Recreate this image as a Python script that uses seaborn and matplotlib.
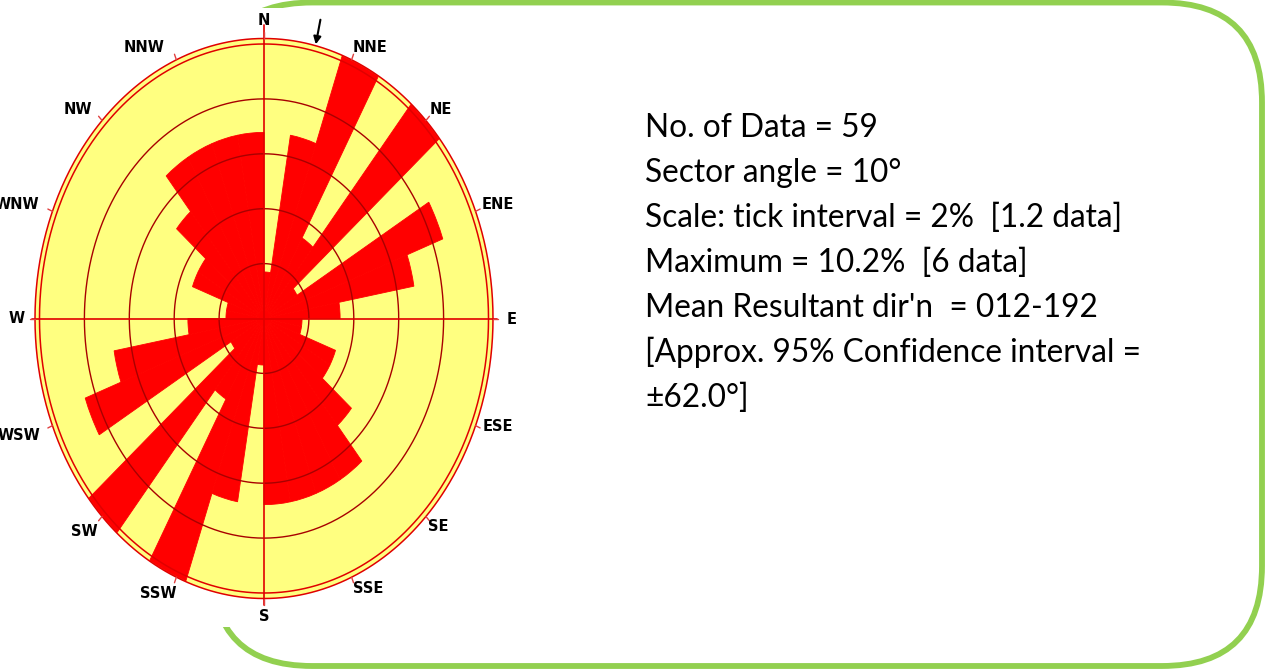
import numpy as np
import pandas as pd
import matplotlib
matplotlib.use("Agg")
import matplotlib.pyplot as plt
from matplotlib.patches import FancyBboxPatch, Rectangle
import seaborn as sns

# Axial orientation data: counts per 10-degree sector from 0 to 180 degrees
# (each axis is also plotted at the opposite bearing).
sector_starts = list(range(0, 180, 10))
sector_counts = [1, 4, 6, 2, 6, 1, 5, 4, 2, 1, 1, 2, 2, 3, 4, 4, 4, 4]
n_data = 59
sector_angle = 10
tick_interval_pct = 2
mean_dir = 12
conf_interval = 62.0

compass_names = ["N", "NNE", "NE", "ENE", "E", "ESE", "SE", "SSE",
                 "S", "SSW", "SW", "WSW", "W", "WNW", "NW", "NNW"]

# ---------------------------------------------------------------- data frame
centers = [s + sector_angle / 2 for s in sector_starts]
centers = centers + [c + 180 for c in centers]
counts = sector_counts + sector_counts
pct = [c / n_data * 100 for c in counts]
df = pd.DataFrame({"theta": np.deg2rad(centers), "pct": pct})
max_count = max(sector_counts)
max_pct = max_count / n_data * 100
r_max = round(max_pct, 1)

# ---------------------------------------------------------------- styling
sns.set_style("white")
RED = "#ff0000"
YELLOW = "#ffff80"
RING = "#a80000"
AXIS_RED = "#e00000"
GREEN = "#92d050"
label_font = ["Liberation Sans Narrow", "DejaVu Sans"]
text_font = ["Lato", "DejaVu Sans"]

W, H = 1265, 670
fig = plt.figure(figsize=(W / 100, H / 100), dpi=100)
fig.patch.set_facecolor("white")

# background layer in pixel units: rounded frame, text panel
bg = fig.add_axes([0, 0, 1, 1], zorder=0)
bg.set_xlim(0, W)
bg.set_ylim(H, 0)
bg.axis("off")
frame = FancyBboxPatch((212, 2.5), 1262 - 212, 666 - 2.5,
                       boxstyle="round,pad=0,rounding_size=100",
                       fill=False, edgecolor=GREEN, lw=4.2, zorder=1)
bg.add_patch(frame)
bg.add_patch(Rectangle((0, 8), 540, 619, facecolor="white",
                       edgecolor="none", zorder=2))

lines = [
    f"No. of Data = {n_data}",
    f"Sector angle = {sector_angle}°",
    f"Scale: tick interval = {tick_interval_pct}%  "
    f"[{tick_interval_pct * n_data / 100:.1f} data]",
    f"Maximum = {max_pct:.1f}%  [{max_count} data]",
    f"Mean Resultant dir'n  = {mean_dir:03d}-{mean_dir + 180:03d}",
    "[Approx. 95% Confidence interval =",
    f"±{conf_interval:.1f}°]",
]
for i, line in enumerate(lines):
    bg.text(645, 136.7 + 45 * i, line, fontsize=22.8, family=text_font,
            ha="left", va="baseline", color="black", zorder=3)

# ---------------------------------------------------------------- rose
cx, cy, rx, ry = 264, 318.5, 229, 280
ax = fig.add_axes([(cx - rx) / W, (H - cy - ry) / H, 2 * rx / W, 2 * ry / H],
                  projection="polar", zorder=2)
ax.set_theta_zero_location("N")
ax.set_theta_direction(-1)

sns.barplot(data=df, x="theta", y="pct", native_scale=True, orient="x",
            width=1, color=RED, saturation=1, linewidth=0.6, edgecolor=RED,
            errorbar=None, ax=ax)

ax.set_xlim(0, 2 * np.pi)
ax.set_ylim(0, r_max)
ax.set_aspect("auto")
ax.set_facecolor(YELLOW)
ax.set_xticks([])
ax.set_yticks([])
ax.set_xlabel("")
ax.set_ylabel("")
ax.grid(False)
ax.spines["polar"].set_visible(False)

ring_theta = np.linspace(0, 2 * np.pi, 721)
for r in np.arange(tick_interval_pct, 10, tick_interval_pct):
    ax.plot(ring_theta, np.full_like(ring_theta, r), color=RING, lw=1.0,
            zorder=3)
for r in (10.0, r_max):
    ax.plot(ring_theta, np.full_like(ring_theta, r), color=AXIS_RED, lw=1.1,
            zorder=3, clip_on=False)

# cross through the centre
for bearing, reach in ((0, 10.7), (90, 10.4), (180, 10.45), (270, 10.35)):
    t = np.deg2rad(bearing)
    ax.plot([t, t], [0, reach], color=AXIS_RED, lw=1.2, zorder=4,
            clip_on=False)

# compass ticks and names
for k in range(16):
    t = np.deg2rad(22.5 * k)
    ax.plot([t, t], [r_max, r_max + 0.22], color="#e04040", lw=1.0,
            zorder=4, clip_on=False)

# anchor of each name: bearing, radius and horizontal alignment
label_bearing = [0, 21.9, 44.1, 66.8, 90.1, 112.0, 136.0, 158.1,
                 180, 201.2, 223.6, 246.9, 270, 292.6, 314.9, 335.9]
label_radius = [10.87, 10.64, 10.62, 10.57, 10.82, 10.48, 10.53, 10.6,
                10.86, 10.74, 10.72, 10.85, 10.65, 10.85, 10.81, 10.81]
label_align = ["center"] + ["left"] * 7 + ["center"] + ["right"] * 7
for name, b, r, ha in zip(compass_names, label_bearing, label_radius,
                          label_align):
    ax.text(np.deg2rad(b), r, name, ha=ha, va="center", fontsize=10.5,
            fontweight="bold", family=label_font, color="black",
            clip_on=False, zorder=5)

# mean resultant direction marker
t_mean = np.deg2rad(mean_dir + 1)
ax.annotate("", xy=(t_mean, r_max + 0.05), xytext=(t_mean, r_max + 0.97),
            arrowprops=dict(arrowstyle="-|>", color="black", lw=1.5,
                            mutation_scale=11, shrinkA=0, shrinkB=0),
            annotation_clip=False, zorder=6)

fig.savefig("out.png", dpi=100, facecolor="white")
